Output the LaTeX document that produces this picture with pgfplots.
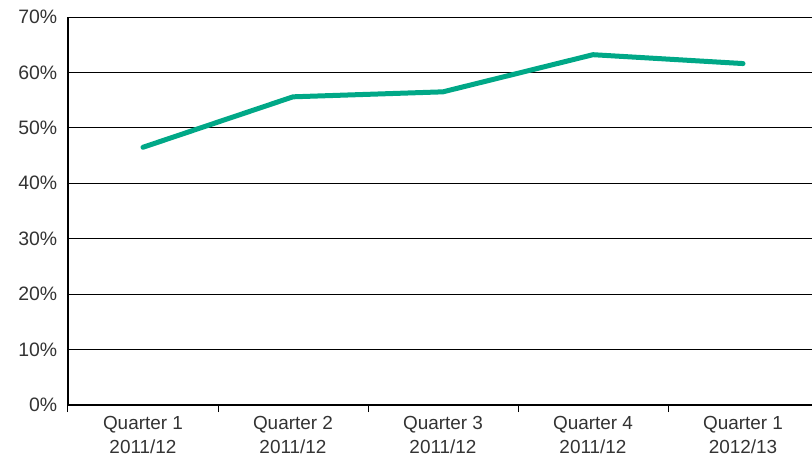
\documentclass[border=0pt]{standalone}
\usepackage{fontspec}
\setmainfont{Liberation Sans}
\usepackage{pgfplots}
\pgfplotsset{compat=1.18}
\definecolor{teal1}{HTML}{00A887}
\definecolor{txt}{HTML}{333333}
\begin{document}
\begin{tikzpicture}[x=1bp,y=1bp]
\path[use as bounding box] (-68bp,-51bp) rectangle (744bp,405bp);
\begin{axis}[
  at={(0,0)}, anchor=south west,
  scale only axis, width=744bp, height=388bp,
  xmin=-0.5, xmax=4.46, ymin=0, ymax=70,
  axis x line*=bottom, axis y line*=left,
  axis line style={black, line width=1.1bp, -},
  xtick={0,1,2,3,4},
  xticklabels={{Quarter 1\\2011/12},{Quarter 2\\2011/12},{Quarter 3\\2011/12},{Quarter 4\\2011/12},{Quarter 1\\2012/13}},
  xticklabel style={align=center, font=\fontsize{19}{23.5}\selectfont, text=txt, yshift=-4bp},
  major x tick style={draw=none},
  minor xtick={-0.5,0.5,1.5,2.5,3.5},
  minor tick length=7bp,
  minor x tick style={black, line width=1bp},
  tick align=outside,
  ytick={0,10,...,70},
  yticklabels={0\%,10\%,20\%,30\%,40\%,50\%,60\%,70\%},
  yticklabel style={font=\fontsize{19.5}{22}\selectfont, text=txt, xshift=-3bp},
  major y tick style={draw=none},
  ymajorgrids, grid style={black, line width=1bp},
  clip=false,
]
\addplot[teal1, line width=5bp, line join=round, line cap=round] coordinates {
(0,46.5) (1,55.6) (2,56.5) (3,63.2) (4,61.6)
};
\end{axis}
\end{tikzpicture}
\end{document}
